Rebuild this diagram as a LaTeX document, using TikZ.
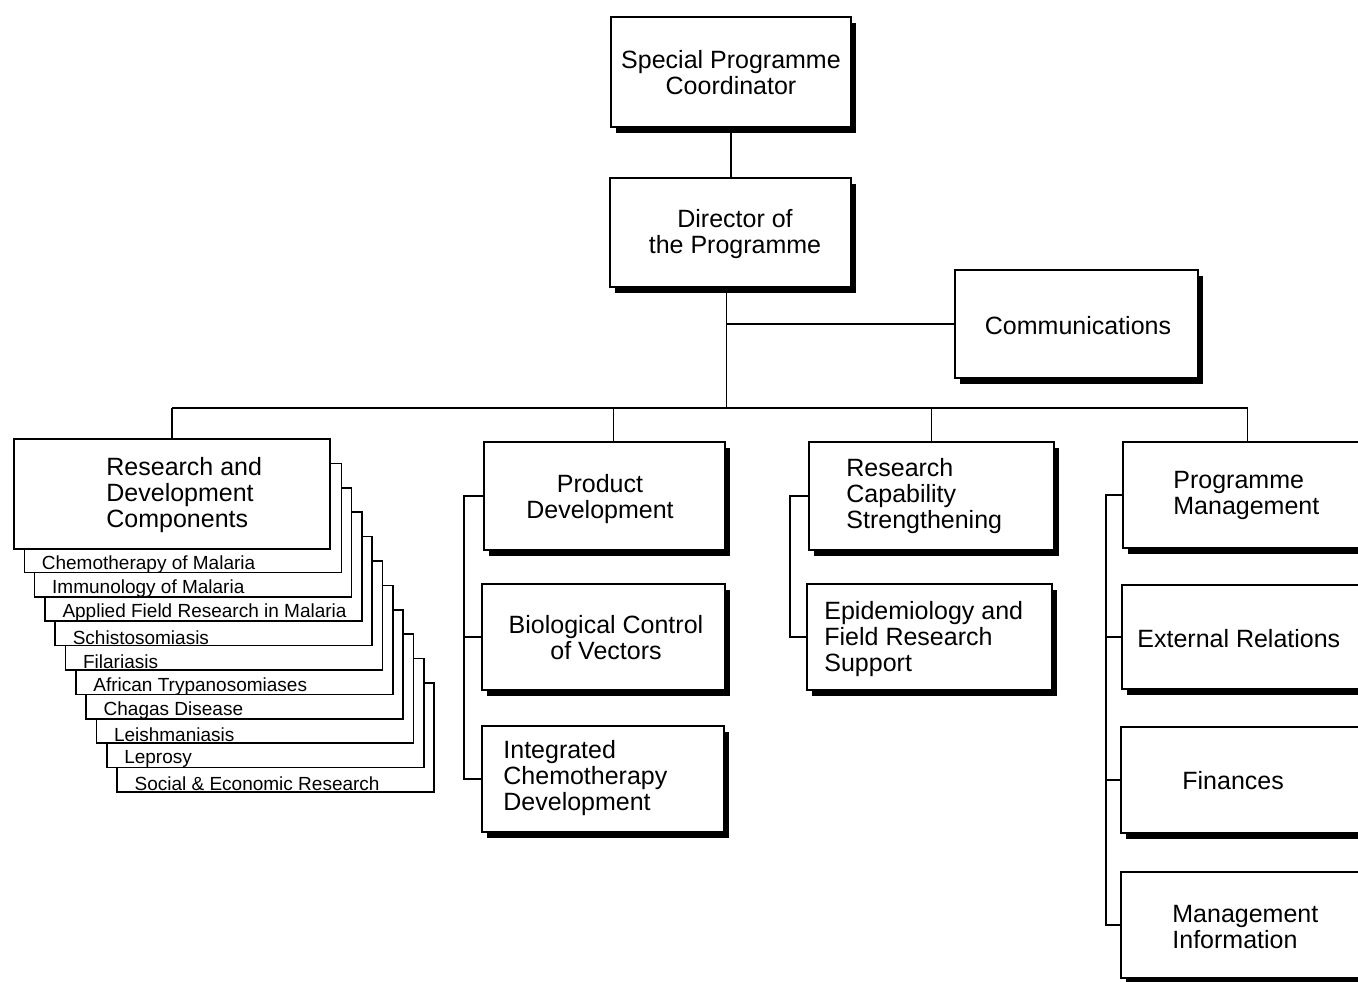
\documentclass[tikz,border=0pt]{standalone}
\usepackage{fontspec}
\setmainfont{Liberation Sans}
\usetikzlibrary{fit,shadows,calc}
\begin{document}
\begin{tikzpicture}[x=0.5pt,y=-0.5pt,
  box/.style={draw, line width=0.9pt, fill=white, inner sep=0pt},
  shadowed/.style={drop shadow={shadow xshift=2.6pt, shadow yshift=-2.8pt, fill=black, opacity=1}},
  boxtext/.style={anchor=west, inner sep=0pt, align=left, font=\fontsize{12.5}{13}\selectfont},
  ctext/.style={anchor=center, inner sep=0pt, align=center, font=\fontsize{12.5}{13}\selectfont},
  card/.style={draw, line width=0.8pt, fill=white, inner sep=0pt},
  cardtext/.style={anchor=west, inner sep=0pt, font=\fontsize{9.5}{11}\selectfont},
  link/.style={line width=0.75pt}]
\useasboundingbox (0,0) rectangle (1358,981);
\clip (0,0) rectangle (1358,981);

% top of the hierarchy
\node[box, shadowed, fit={(611,17) (851,127)}] (spc) {};
\node[ctext] (spcT) at (731,73) {Special Programme\\Coordinator};
\node[box, shadowed, fit={(610,178) (851,287)}] (dir) {};
\node[ctext] (dirT) at (735,234) {Director of\\the Programme};
\node[box, shadowed, fit={(955,270) (1198,378)}] (comm) {};
\node[ctext] (commT) at (1078,326) {Communications};

% stacked component cards
\foreach \i/\t in {10/{Social \& Economic Research},9/Leprosy,8/Leishmaniasis,7/Chagas Disease,6/African Trypanosomiases,5/Filariasis,4/Schistosomiasis,3/Applied Field Research in Malaria,2/Immunology of Malaria,1/Chemotherapy of Malaria}{
  \pgfmathsetmacro\cx{14+10.3*\i}
  \pgfmathsetmacro\cy{439+24.4*\i}
  \node[card, fit={(\cx,\cy) (\cx+317,\cy+109)}] (card\i) {};
  \node[cardtext] (cardT\i) at ($(card\i.south west)+(18,-9)$) {\t};
}
\node[card, fit={(14,439) (330,549)}] (rd) {};
\node[boxtext] (rdT) at (106,495) {Research and\\Development\\Components};

% product development column
\node[box, shadowed, fit={(484,442) (725,550)}] (pd) {};
\node[ctext] (pdT) at (600,499) {Product\\Development};
\node[box, shadowed, fit={(482,584) (725,690)}] (bcv) {};
\node[ctext] (bcvT) at (606,638) {Biological Control\\of Vectors};
\node[box, shadowed, fit={(482,726) (724,832)}] (icd) {};
\node[boxtext] (icdT) at (503,778) {Integrated\\Chemotherapy\\Development};

% research capability column
\node[box, shadowed, fit={(809,442) (1054,550)}] (rcs) {};
\node[boxtext] (rcsT) at (846,496) {Research\\Capability\\Strengthening};
\node[box, shadowed, fit={(807,584) (1052,690)}] (efr) {};
\node[boxtext] (efrT) at (824,639) {Epidemiology and\\Field Research\\Support};

% programme management column
\node[box, shadowed, fit={(1123,442) (1372,548)}] (pm) {};
\node[boxtext] (pmT) at (1173,495) {Programme\\Management};
\node[box, shadowed, fit={(1122,585) (1372,689)}] (er) {};
\node[boxtext] (erT) at (1137,639) {External Relations};
\node[box, shadowed, fit={(1121,727) (1372,833)}] (fin) {};
\node[boxtext] (finT) at (1182,781) {Finances};
\node[box, shadowed, fit={(1121,872) (1372,978)}] (mi) {};
\node[boxtext] (miT) at (1172,927) {Management\\Information};

% connectors
\coordinate (busy) at (0,408);
\coordinate (dirbot) at ($(dir.south)+(-4,0)$);
\coordinate (pdtop) at ($(pd.north)+(9,0)$);
\coordinate (pdx) at (464,0);
\coordinate (rcx) at (790,0);
\coordinate (pmx) at (1106,0);

\draw[link] (spc.south) -- (spc.south |- dir.north);
\draw[link] (dirbot) -- (dirbot |- busy);
\draw[link] (dirbot |- comm.west) -- (comm.west);
\draw[link] (rd.north |- busy) -- (pm.north |- busy);
\draw[link] (rd.north |- busy) -- (rd.north);
\draw[link] (pdtop |- busy) -- (pdtop);
\draw[link] (rcs.north |- busy) -- (rcs.north);
\draw[link] (pm.north |- busy) -- (pm.north);

\draw[link] (pd.west) -- (pd.west -| pdx) |- (icd.west);
\draw[link] (bcv.west -| pdx) -- (bcv.west);
\draw[link] (rcs.west) -- (rcs.west -| rcx) |- (efr.west);
\draw[link] (pm.west) -- (pm.west -| pmx) |- (mi.west);
\draw[link] (er.west -| pmx) -- (er.west);
\draw[link] (fin.west -| pmx) -- (fin.west);
\end{tikzpicture}
\end{document}
